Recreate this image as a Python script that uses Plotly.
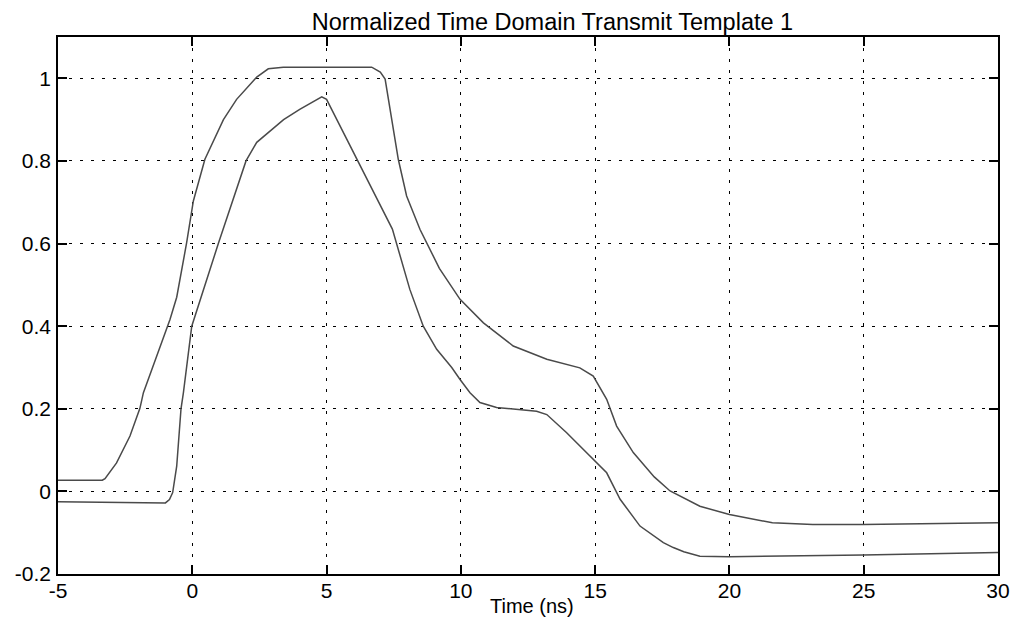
import plotly.graph_objects as go

# Upper template (mask upper bound)
upper_t = [-5, -3.35, -3.25, -2.82, -2.32, -1.95, -1.82, -0.83, -0.58, -0.21, 0.04, 0.47,
           1.16, 1.65, 2.40, 2.83, 3.39, 6.68, 7.0, 7.18, 7.67, 7.98, 8.48, 9.2, 9.97,
           10.84, 11.95, 13.2, 14.43, 14.93, 15.43, 15.8, 16.42, 17.2, 17.79, 18.9, 20.0,
           21.6, 23.1, 24.98, 30.0]
upper_v = [0.027, 0.027, 0.031, 0.069, 0.134, 0.201, 0.239, 0.416, 0.470, 0.602, 0.703, 0.804,
           0.900, 0.949, 1.003, 1.023, 1.027, 1.027, 1.015, 0.998, 0.804, 0.715, 0.634, 0.540, 0.465,
           0.408, 0.352, 0.320, 0.299, 0.279, 0.223, 0.158, 0.094, 0.035, 0.001, -0.036, -0.056,
           -0.076, -0.080, -0.080, -0.076]

# Lower template (mask lower bound)
lower_t = [-5, -1.0, -0.85, -0.73, -0.58, -0.42, -0.33, -0.02, 0.97, 1.53, 2.0, 2.4, 2.9,
           3.4, 4.0, 4.82, 5.0, 7.45, 8.1, 8.23, 8.6, 9.1, 9.66, 9.97, 10.34, 10.71, 11.33,
           12.82, 13.2, 13.94, 14.93, 15.43, 15.93, 16.67, 17.54, 17.91, 18.3, 18.9, 20.0,
           24.98, 30.0]
lower_v = [-0.025, -0.028, -0.02, -0.003, 0.061, 0.200, 0.239, 0.400, 0.600, 0.707, 0.800, 0.845, 0.873,
           0.900, 0.925, 0.955, 0.949, 0.635, 0.489, 0.465, 0.400, 0.344, 0.300, 0.271, 0.239, 0.215, 0.203,
           0.194, 0.186, 0.142, 0.077, 0.045, -0.019, -0.084, -0.124, -0.136, -0.146, -0.157, -0.158,
           -0.154, -0.148]

x_ticks = [-5, 0, 5, 10, 15, 20, 25, 30]
y_ticks = [-0.2, 0, 0.2, 0.4, 0.6, 0.8, 1]
y_tick_text = ["-0.2", "0", "0.2", "0.4", "0.6", "0.8", "1"]

title_text = "Normalized Time Domain Transmit Template 1"
x_title = "Time (ns)"

line_style = dict(color="#4a4a4a", width=1.5)

fig = go.Figure()
fig.add_trace(go.Scatter(x=upper_t, y=upper_v, mode="lines", line=line_style,
                         showlegend=False, hoverinfo="skip"))
fig.add_trace(go.Scatter(x=lower_t, y=lower_v, mode="lines", line=line_style,
                         showlegend=False, hoverinfo="skip"))

font_family = "Liberation Sans, Arial, sans-serif"

# page body has an 8px default margin, so the figure is sized to fit 1024x622
fig.update_layout(
    width=1016, height=614,
    margin=dict(l=50, r=26, t=29, b=48, autoexpand=False),
    paper_bgcolor="white", plot_bgcolor="white",
    font=dict(family=font_family, color="black", size=21),
    title=dict(text=title_text, x=0.526, xref="paper", xanchor="center",
               y=0.977, yref="container", yanchor="middle",
               font=dict(size=23.5, family=font_family, color="black")),
    xaxis=dict(range=[-5, 30], tickvals=x_ticks, ticktext=[str(v) for v in x_ticks],
               showgrid=True, gridcolor="black", gridwidth=1, griddash="3px,8px",
               zeroline=False, showline=True, linecolor="black", linewidth=1.5,
               mirror="allticks", ticks="inside", ticklen=9, tickcolor="black", tickwidth=1.5,
               tickfont=dict(size=21), ticklabelstandoff=-3, automargin=False),
    yaxis=dict(range=[-0.2, 1.1], tickvals=y_ticks, ticktext=y_tick_text,
               showgrid=True, gridcolor="black", gridwidth=1, griddash="3px,8px",
               zeroline=False, showline=True, linecolor="black", linewidth=1.5,
               mirror="allticks", ticks="inside", ticklen=9, tickcolor="black", tickwidth=1.5,
               tickfont=dict(size=21), ticklabelstandoff=1, automargin=False),
    annotations=[dict(text=x_title, x=0.5, xref="paper", y=0, yref="paper",
                      xanchor="center", yanchor="middle", yshift=-32, xshift=4,
                      showarrow=False,
                      font=dict(size=20, family=font_family, color="black"))],
)

fig.write_html("out.html")
